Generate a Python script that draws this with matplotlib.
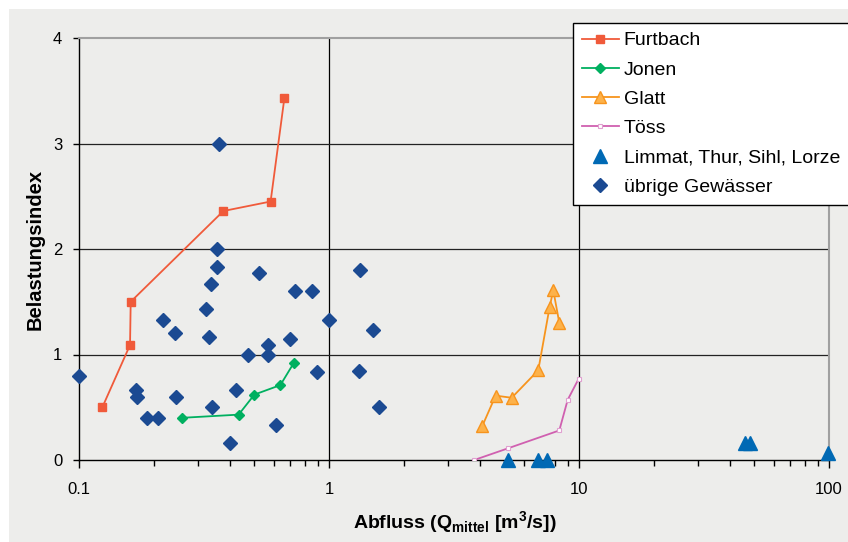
import matplotlib
matplotlib.use("Agg")
import matplotlib.pyplot as plt
from matplotlib.ticker import LogLocator, NullFormatter, FixedLocator, FixedFormatter
from matplotlib.patches import Rectangle

plt.rcParams['font.family'] = ['Liberation Sans', 'DejaVu Sans']
plt.rcParams['mathtext.fontset'] = 'custom'
plt.rcParams['mathtext.rm'] = 'Liberation Sans:bold'
plt.rcParams['mathtext.bf'] = 'Liberation Sans:bold'

# Furtbach
furt_q = [0.124, 0.160, 0.161, 0.378, 0.584, 0.663]
furt_b = [0.50, 1.09, 1.50, 2.36, 2.45, 3.43]
# Jonen
jonen_q = [0.259, 0.435, 0.503, 0.639, 0.723]
jonen_b = [0.40, 0.43, 0.62, 0.71, 0.92]
# Glatt
glatt_q = [4.10, 4.64, 5.38, 6.87, 7.63, 7.89, 8.34]
glatt_b = [0.32, 0.61, 0.59, 0.85, 1.45, 1.61, 1.30]
# Töss
toess_q = [3.81, 5.19, 8.34, 9.01, 9.97]
toess_b = [0.00, 0.11, 0.28, 0.57, 0.77]
# Limmat, Thur, Sihl, Lorze
gross_q = [5.19, 6.87, 7.43, 46.1, 48.3, 99.4]
gross_b = [0.00, 0.00, 0.00, 0.16, 0.16, 0.07]
# übrige Gewässer
uebrige_q = [0.100, 0.363, 0.355, 0.358, 0.526, 0.337, 0.733, 0.855, 1.00,
             0.217, 0.242, 0.321, 0.331, 0.696, 0.569, 0.476, 0.570, 0.895,
             0.169, 0.171, 0.245, 0.425, 0.340, 0.187, 0.207, 0.615, 0.403,
             1.33, 1.50, 1.318, 1.59]
uebrige_b = [0.80, 3.00, 2.00, 1.83, 1.775, 1.67, 1.60, 1.60, 1.33,
             1.33, 1.20, 1.43, 1.166, 1.144, 1.087, 1.00, 1.00, 0.834,
             0.666, 0.594, 0.597, 0.666, 0.50, 0.40, 0.40, 0.33, 0.164,
             1.80, 1.232, 0.846, 0.50]

x_ticks = [0.1, 1, 10, 100]
x_ticklabels = ["0.1", "1", "10", "100"]
y_ticks = [0, 1, 2, 3, 4]

W, H = 848, 542
bg = '#EDEDEB'
fig = plt.figure(figsize=(W / 100, H / 100), dpi=100, facecolor='white')
fig.patches.append(Rectangle((9 / W, 0), 1, 1 - 9 / H, transform=fig.transFigure,
                             facecolor=bg, edgecolor='none', zorder=-10))
ax = fig.add_axes([79 / W, 1 - 460 / H, 750 / W, 422 / H])
ax.set_facecolor(bg)
ax.set_xscale('log')
ax.set_xlim(0.1, 100)
ax.set_ylim(0, 4)

# grid
for v in [1, 10]:
    ax.axvline(v, color='black', lw=0.9, zorder=1)
for v in [1, 2, 3]:
    ax.axhline(v, color='#222222', lw=0.9, zorder=1)

ax.plot(furt_q, furt_b, color='#F05A3A', marker='s', markersize=6, lw=1.3,
        label='Furtbach', zorder=4)
ax.plot(jonen_q, jonen_b, color='#00B060', marker='D', markersize=5, lw=1.3,
        label='Jonen', zorder=4)
ax.plot(glatt_q, glatt_b, color='#F7941D', marker='^', markersize=8,
        markerfacecolor='#FDB24A', markeredgecolor='#F7941D', lw=1.3,
        label='Glatt', zorder=4)
ax.plot(toess_q, toess_b, color='#D060B0', marker='s', markersize=3.5,
        markerfacecolor='white', markeredgecolor='#E0A0D0', markeredgewidth=0.8,
        lw=1.3, label='Töss', zorder=4)
ax.plot(gross_q, gross_b, linestyle='none', marker='^', markersize=10,
        color='#0069B4', label='Limmat, Thur, Sihl, Lorze', zorder=5, clip_on=False)
ax.plot(uebrige_q, uebrige_b, linestyle='none', marker='D', markersize=7.5,
        color='#1B4A92', label='übrige Gewässer', zorder=5, clip_on=False)

for side in ['top', 'right']:
    ax.spines[side].set_color('#A0A0A0')
    ax.spines[side].set_linewidth(1.5)
for side in ['left', 'bottom']:
    ax.spines[side].set_color('black')
    ax.spines[side].set_linewidth(1.0)

ax.xaxis.set_major_locator(FixedLocator(x_ticks))
ax.xaxis.set_major_formatter(FixedFormatter(x_ticklabels))
ax.xaxis.set_minor_locator(LogLocator(base=10, subs=range(2, 10)))
ax.xaxis.set_minor_formatter(NullFormatter())
ax.set_yticks(y_ticks)
ax.set_yticklabels([str(v) for v in y_ticks])
ax.tick_params(axis='x', which='major', direction='out', length=6, width=1,
               labelsize=12, pad=10)
ax.tick_params(axis='x', which='minor', direction='out', length=4, width=1)
ax.tick_params(axis='y', which='major', direction='out', length=4, width=1,
               labelsize=12, pad=8)

fig.text(35 / W, 1 - 249 / H, 'Belastungsindex', rotation=90, fontsize=14.5,
         fontweight='bold', ha='center', va='center')
fig.text(455 / W, 1 - 523 / H,
         r'Abfluss (Q$_{\mathrm{mittel}}$ [m$^{\mathrm{3}}$/s])', fontsize=14,
         fontweight='bold', ha='center', va='center')

leg = ax.legend(loc='upper left', bbox_to_anchor=(573 / W, 1 - 23 / H),
                bbox_transform=fig.transFigure, borderaxespad=0, fontsize=14,
                frameon=True, fancybox=False, framealpha=1, edgecolor='black',
                handlelength=1.9, handletextpad=0.25, labelspacing=0.6,
                borderpad=0.45)
leg.get_frame().set_linewidth(1.0)
leg.set_zorder(10)

fig.savefig('out.png', dpi=100, facecolor='white')
